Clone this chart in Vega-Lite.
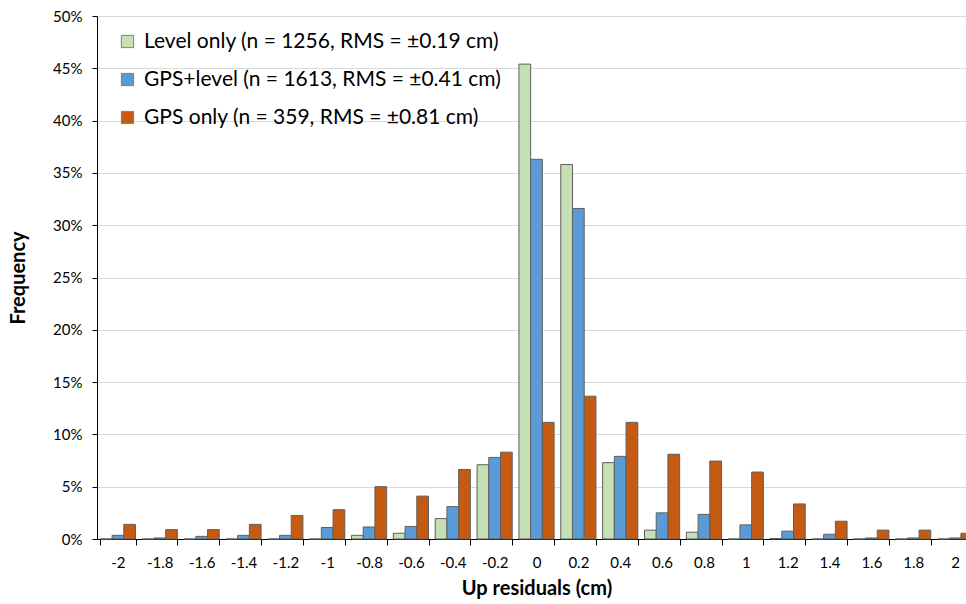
{
  "$schema": "https://vega.github.io/schema/vega-lite/v6.json",
  "autosize": {"type": "none"},
  "padding": {"left": 97, "right": 0, "top": 16, "bottom": 65},
  "width": 869,
  "height": 523,
  "background": "white",
  "config": {
    "font": "Lato",
    "view": {"stroke": null}
  },
  "datasets": {
    "hist": [
      {"x": "-2", "s": "Level only (n = 1256, RMS = ±0.19 cm)", "v": 0},
      {"x": "-2", "s": "GPS+level (n = 1613, RMS = ±0.41 cm)", "v": 0.35},
      {"x": "-2", "s": "GPS only (n = 359, RMS = ±0.81 cm)", "v": 1.4},
      {"x": "-1.8", "s": "Level only (n = 1256, RMS = ±0.19 cm)", "v": 0},
      {"x": "-1.8", "s": "GPS+level (n = 1613, RMS = ±0.41 cm)", "v": 0.1},
      {"x": "-1.8", "s": "GPS only (n = 359, RMS = ±0.81 cm)", "v": 0.9},
      {"x": "-1.6", "s": "Level only (n = 1256, RMS = ±0.19 cm)", "v": 0},
      {"x": "-1.6", "s": "GPS+level (n = 1613, RMS = ±0.41 cm)", "v": 0.25},
      {"x": "-1.6", "s": "GPS only (n = 359, RMS = ±0.81 cm)", "v": 0.9},
      {"x": "-1.4", "s": "Level only (n = 1256, RMS = ±0.19 cm)", "v": 0},
      {"x": "-1.4", "s": "GPS+level (n = 1613, RMS = ±0.41 cm)", "v": 0.35},
      {"x": "-1.4", "s": "GPS only (n = 359, RMS = ±0.81 cm)", "v": 1.4},
      {"x": "-1.2", "s": "Level only (n = 1256, RMS = ±0.19 cm)", "v": 0},
      {"x": "-1.2", "s": "GPS+level (n = 1613, RMS = ±0.41 cm)", "v": 0.35},
      {"x": "-1.2", "s": "GPS only (n = 359, RMS = ±0.81 cm)", "v": 2.25},
      {"x": "-1", "s": "Level only (n = 1256, RMS = ±0.19 cm)", "v": 0},
      {"x": "-1", "s": "GPS+level (n = 1613, RMS = ±0.41 cm)", "v": 1.1},
      {"x": "-1", "s": "GPS only (n = 359, RMS = ±0.81 cm)", "v": 2.8},
      {"x": "-0.8", "s": "Level only (n = 1256, RMS = ±0.19 cm)", "v": 0.35},
      {"x": "-0.8", "s": "GPS+level (n = 1613, RMS = ±0.41 cm)", "v": 1.15},
      {"x": "-0.8", "s": "GPS only (n = 359, RMS = ±0.81 cm)", "v": 5.0},
      {"x": "-0.6", "s": "Level only (n = 1256, RMS = ±0.19 cm)", "v": 0.55},
      {"x": "-0.6", "s": "GPS+level (n = 1613, RMS = ±0.41 cm)", "v": 1.2},
      {"x": "-0.6", "s": "GPS only (n = 359, RMS = ±0.81 cm)", "v": 4.1},
      {"x": "-0.4", "s": "Level only (n = 1256, RMS = ±0.19 cm)", "v": 1.95},
      {"x": "-0.4", "s": "GPS+level (n = 1613, RMS = ±0.41 cm)", "v": 3.1},
      {"x": "-0.4", "s": "GPS only (n = 359, RMS = ±0.81 cm)", "v": 6.65},
      {"x": "-0.2", "s": "Level only (n = 1256, RMS = ±0.19 cm)", "v": 7.1},
      {"x": "-0.2", "s": "GPS+level (n = 1613, RMS = ±0.41 cm)", "v": 7.8},
      {"x": "-0.2", "s": "GPS only (n = 359, RMS = ±0.81 cm)", "v": 8.3},
      {"x": "0", "s": "Level only (n = 1256, RMS = ±0.19 cm)", "v": 45.4},
      {"x": "0", "s": "GPS+level (n = 1613, RMS = ±0.41 cm)", "v": 36.3},
      {"x": "0", "s": "GPS only (n = 359, RMS = ±0.81 cm)", "v": 11.15},
      {"x": "0.2", "s": "Level only (n = 1256, RMS = ±0.19 cm)", "v": 35.8},
      {"x": "0.2", "s": "GPS+level (n = 1613, RMS = ±0.41 cm)", "v": 31.6},
      {"x": "0.2", "s": "GPS only (n = 359, RMS = ±0.81 cm)", "v": 13.65},
      {"x": "0.4", "s": "Level only (n = 1256, RMS = ±0.19 cm)", "v": 7.3},
      {"x": "0.4", "s": "GPS+level (n = 1613, RMS = ±0.41 cm)", "v": 7.9},
      {"x": "0.4", "s": "GPS only (n = 359, RMS = ±0.81 cm)", "v": 11.15},
      {"x": "0.6", "s": "Level only (n = 1256, RMS = ±0.19 cm)", "v": 0.85},
      {"x": "0.6", "s": "GPS+level (n = 1613, RMS = ±0.41 cm)", "v": 2.5},
      {"x": "0.6", "s": "GPS only (n = 359, RMS = ±0.81 cm)", "v": 8.1},
      {"x": "0.8", "s": "Level only (n = 1256, RMS = ±0.19 cm)", "v": 0.65},
      {"x": "0.8", "s": "GPS+level (n = 1613, RMS = ±0.41 cm)", "v": 2.35},
      {"x": "0.8", "s": "GPS only (n = 359, RMS = ±0.81 cm)", "v": 7.45},
      {"x": "1", "s": "Level only (n = 1256, RMS = ±0.19 cm)", "v": 0},
      {"x": "1", "s": "GPS+level (n = 1613, RMS = ±0.41 cm)", "v": 1.35},
      {"x": "1", "s": "GPS only (n = 359, RMS = ±0.81 cm)", "v": 6.4},
      {"x": "1.2", "s": "Level only (n = 1256, RMS = ±0.19 cm)", "v": 0.05},
      {"x": "1.2", "s": "GPS+level (n = 1613, RMS = ±0.41 cm)", "v": 0.75},
      {"x": "1.2", "s": "GPS only (n = 359, RMS = ±0.81 cm)", "v": 3.35},
      {"x": "1.4", "s": "Level only (n = 1256, RMS = ±0.19 cm)", "v": 0},
      {"x": "1.4", "s": "GPS+level (n = 1613, RMS = ±0.41 cm)", "v": 0.45},
      {"x": "1.4", "s": "GPS only (n = 359, RMS = ±0.81 cm)", "v": 1.7},
      {"x": "1.6", "s": "Level only (n = 1256, RMS = ±0.19 cm)", "v": 0},
      {"x": "1.6", "s": "GPS+level (n = 1613, RMS = ±0.41 cm)", "v": 0.1},
      {"x": "1.6", "s": "GPS only (n = 359, RMS = ±0.81 cm)", "v": 0.85},
      {"x": "1.8", "s": "Level only (n = 1256, RMS = ±0.19 cm)", "v": 0},
      {"x": "1.8", "s": "GPS+level (n = 1613, RMS = ±0.41 cm)", "v": 0.1},
      {"x": "1.8", "s": "GPS only (n = 359, RMS = ±0.81 cm)", "v": 0.85},
      {"x": "2", "s": "Level only (n = 1256, RMS = ±0.19 cm)", "v": 0},
      {"x": "2", "s": "GPS+level (n = 1613, RMS = ±0.41 cm)", "v": 0.1},
      {"x": "2", "s": "GPS only (n = 359, RMS = ±0.81 cm)", "v": 0.55}
    ]
  },
  "data": {"name": "hist"},
  "mark": {"type": "bar", "stroke": "#5f5f5f", "strokeWidth": 1},
  "encoding": {
    "x": {
      "field": "x",
      "type": "nominal",
      "sort": ["-2","-1.8","-1.6","-1.4","-1.2","-1","-0.8","-0.6","-0.4","-0.2","0","0.2","0.4","0.6","0.8","1","1.2","1.4","1.6","1.8","2"],
      "scale": {"range": [0, 879], "paddingInner": 0.16, "paddingOuter": 0.08},
      "axis": {
        "title": "Up residuals  (cm)",
        "titleFont": "Lato",
        "titleFontSize": 20,
        "titleFontWeight": "bold",
        "titleColor": "#000000",
        "titlePadding": 8,
        "labelAngle": 0,
        "labelFont": "Lato",
        "labelFontSize": 15,
        "labelColor": "#000000",
        "labelPadding": 10,
        "tickBand": "extent",
        "tickSize": 6,
        "tickColor": "#000000",
        "domainColor": "#000000",
        "grid": false
      }
    },
    "xOffset": {
      "field": "s",
      "type": "nominal",
      "sort": ["Level only (n = 1256, RMS = ±0.19 cm)", "GPS+level (n = 1613, RMS = ±0.41 cm)", "GPS only (n = 359, RMS = ±0.81 cm)"],
      "scale": {"paddingInner": 0, "paddingOuter": 0}
    },
    "y": {
      "field": "v",
      "type": "quantitative",
      "scale": {"domain": [0, 50], "nice": false},
      "axis": {
        "title": "Frequency",
        "titleFont": "Lato",
        "titleFontSize": 20,
        "titleFontWeight": "bold",
        "titleColor": "#000000",
        "titlePadding": 24,
        "values": [0,5,10,15,20,25,30,35,40,45,50],
        "labelExpr": "datum.value + '%'",
        "labelFont": "Lato",
        "labelFontSize": 15,
        "labelColor": "#000000",
        "labelPadding": 10,
        "tickSize": 5,
        "tickColor": "#000000",
        "domainColor": "#000000",
        "grid": true,
        "gridColor": "#d9d9d9",
        "gridWidth": 1
      }
    },
    "color": {
      "field": "s",
      "type": "nominal",
      "sort": ["Level only (n = 1256, RMS = ±0.19 cm)", "GPS+level (n = 1613, RMS = ±0.41 cm)", "GPS only (n = 359, RMS = ±0.81 cm)"],
      "scale": {"range": ["#c5e0b4", "#5b9bd5", "#c55a11"]},
      "legend": {
        "title": null,
        "orient": "none",
        "legendX": 20,
        "legendY": 15,
        "symbolType": "square",
        "symbolSize": 150,
        "symbolStrokeColor": "#7f7f7f",
        "symbolStrokeWidth": 1,
        "labelFont": "Lato",
        "labelFontSize": 21,
        "labelColor": "#000000",
        "labelOffset": 6,
        "rowPadding": 16,
        "labelLimit": 500
      }
    }
  }
}
